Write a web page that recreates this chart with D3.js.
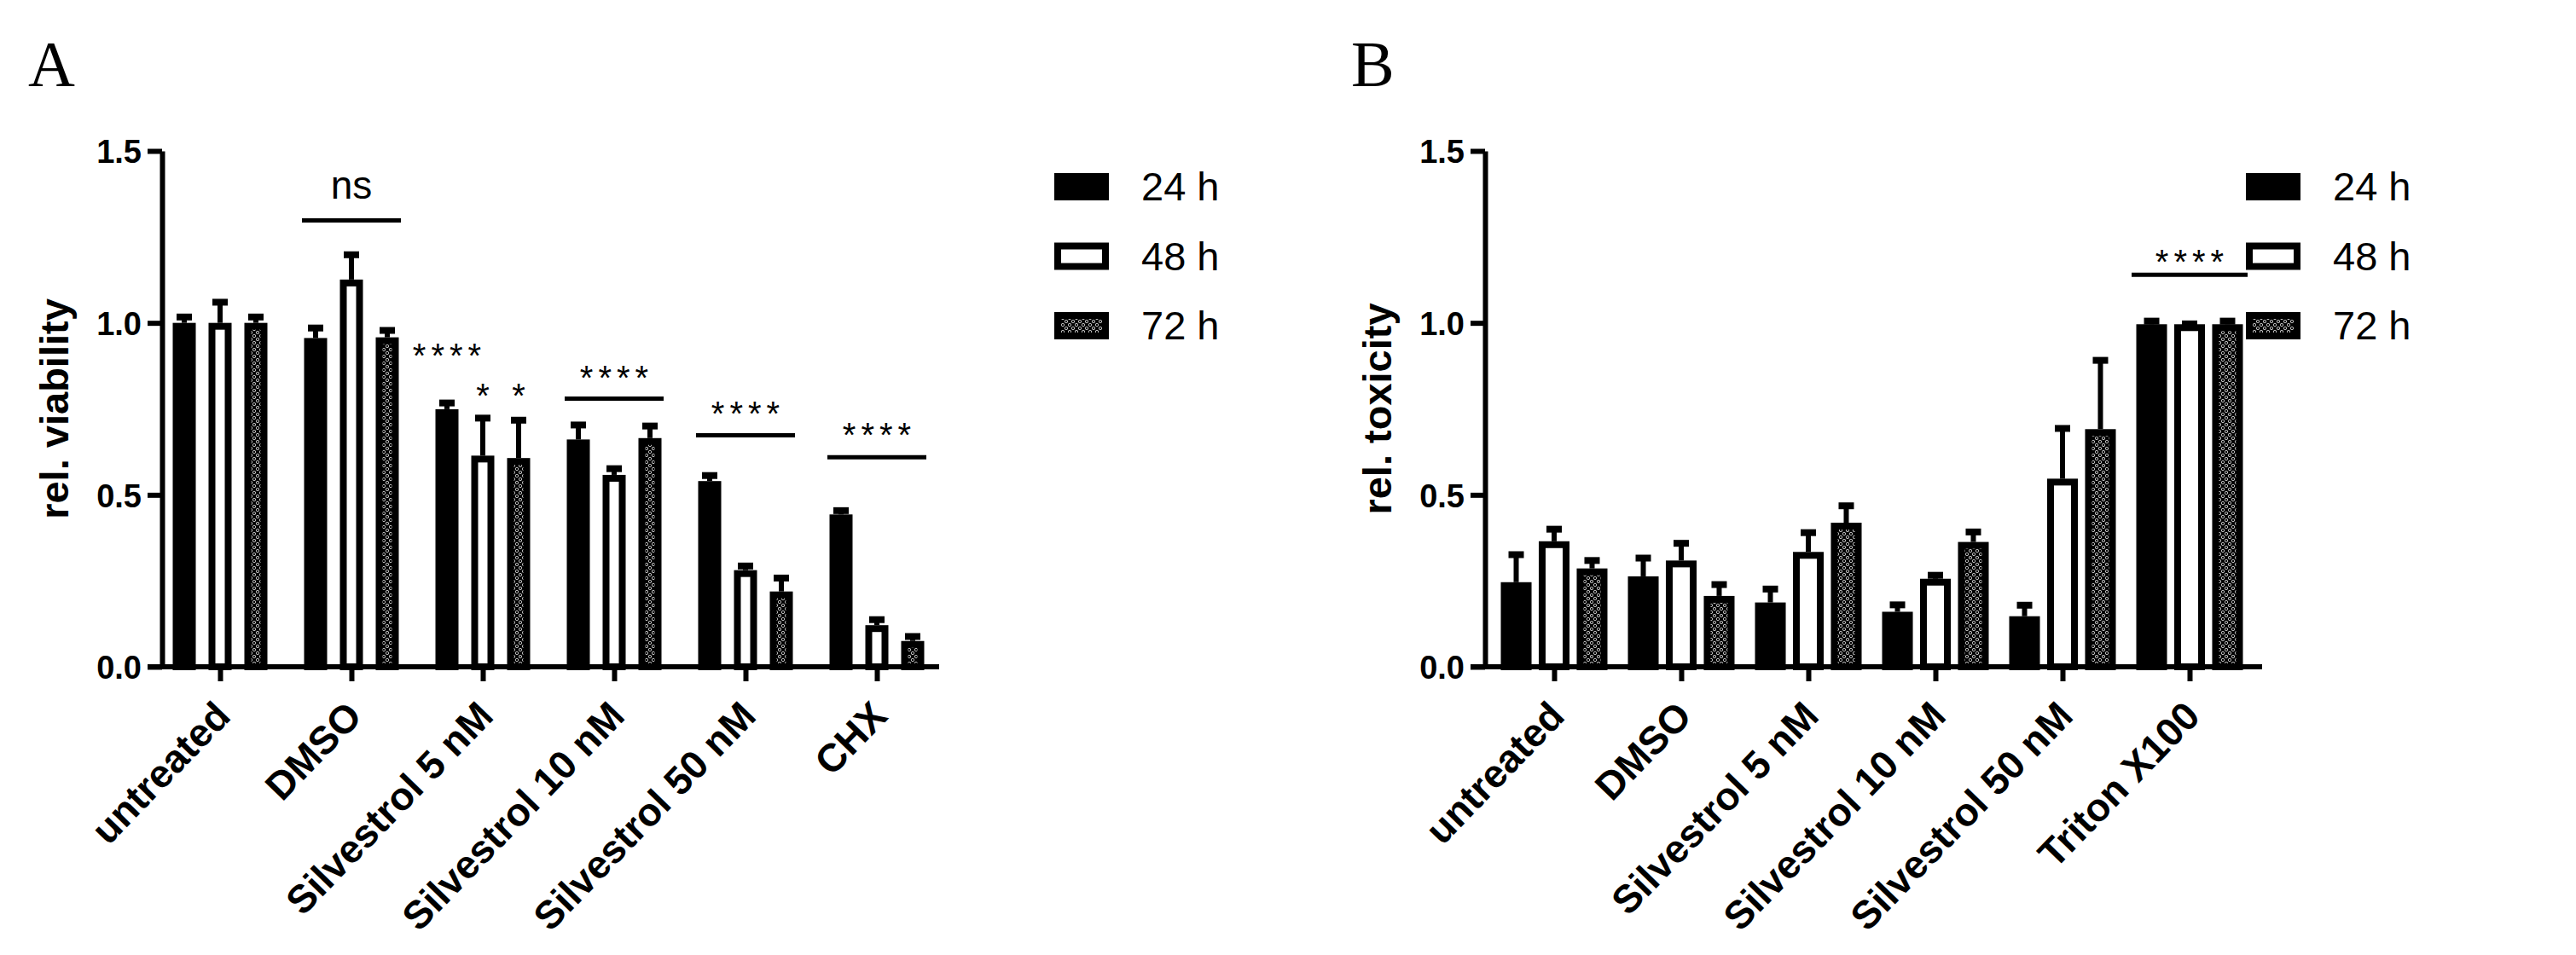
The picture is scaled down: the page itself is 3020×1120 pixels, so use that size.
<!DOCTYPE html>
<html>
<head>
<meta charset="utf-8">
<script src="https://cdn.jsdelivr.net/npm/d3@7"></script>
<style>
  body { margin: 0; background: #fff; }
  text { font-family: "Liberation Sans", Arial, sans-serif; fill: #000; }
</style>
</head>
<body>
<div id="fig"></div>
<script>
// ---- data ----
var series = ["24 h", "48 h", "72 h"];
var yTicks = [0, 0.5, 1.0, 1.5];

var groupsA = ["untreated", "DMSO", "Silvestrol 5 nM", "Silvestrol 10 nM", "Silvestrol 50 nM", "CHX"];
// mean per group, order 24 h / 48 h / 72 h
var meanA = [
  [1.000, 1.000, 1.000],
  [0.956, 1.126, 0.958],
  [0.749, 0.614, 0.607],
  [0.661, 0.558, 0.665],
  [0.540, 0.281, 0.219],
  [0.443, 0.121, 0.075]
];
var semA = [
  [0.027, 0.070, 0.027],
  [0.039, 0.082, 0.030],
  [0.028, 0.119, 0.120],
  [0.052, 0.028, 0.045],
  [0.026, 0.022, 0.049],
  [0.021, 0.026, 0.023]
];

var groupsB = ["untreated", "DMSO", "Silvestrol 5 nM", "Silvestrol 10 nM", "Silvestrol 50 nM", "Triton X100"];
var meanB = [
  [0.246, 0.365, 0.286],
  [0.263, 0.309, 0.206],
  [0.187, 0.334, 0.419],
  [0.160, 0.256, 0.363],
  [0.147, 0.547, 0.691],
  [0.996, 0.996, 0.996]
];
var semB = [
  [0.090, 0.045, 0.033],
  [0.063, 0.060, 0.043],
  [0.049, 0.066, 0.059],
  [0.030, 0.020, 0.039],
  [0.042, 0.156, 0.210],
  [0.019, 0.011, 0.019]
];

// significance marks: group, label, bar line level, text centre level (null line = over one bar)
var sigA = [
  {group: "DMSO", label: "ns", line: 1.298, text: 1.390},
  {group: "Silvestrol 10 nM", label: "****", line: 0.780, text: 0.864},
  {group: "Silvestrol 50 nM", label: "****", line: 0.673, text: 0.758},
  {group: "CHX", label: "****", line: 0.609, text: 0.696},
  {group: "Silvestrol 5 nM", bar: "24 h", label: "****", line: null, text: 0.9285},
  {group: "Silvestrol 5 nM", bar: "48 h", label: "*", line: null, text: 0.811},
  {group: "Silvestrol 5 nM", bar: "72 h", label: "*", line: null, text: 0.811}
];
var sigB = [
  {group: "Triton X100", label: "****", line: 1.140, text: 1.200}
];

// ---- drawing ----
var svg = d3.select("#fig").append("svg")
  .attr("width", 3020).attr("height", 1120);
svg.append("rect").attr("width", 3020).attr("height", 1120).attr("fill", "#fff");

var defs = svg.append("defs");
var pat = defs.append("pattern").attr("id", "dots")
  .attr("patternUnits", "userSpaceOnUse").attr("width", 8).attr("height", 8);
pat.append("rect").attr("width", 8).attr("height", 8).attr("fill", "#000");
pat.append("circle").attr("cx", 2).attr("cy", 2).attr("r", 1.7)
  .attr("fill", "none").attr("stroke", "#bdbdbd").attr("stroke-width", 1);
pat.append("circle").attr("cx", 6).attr("cy", 6).attr("r", 1.7)
  .attr("fill", "none").attr("stroke", "#bdbdbd").attr("stroke-width", 1);

var fills = {"24 h": "#000", "48 h": "#fff", "72 h": "url(#dots)"};
var SW = 8;   // bar outline

function panel(o) {
  var g = svg.append("g");

  var y = d3.scaleLinear().domain([0, 1.5]).range([782, 177]);
  var x = d3.scalePoint().domain(o.groups).range(o.xRange);
  var sub = d3.scaleBand().domain(series)
    .range([-o.span / 2, o.span / 2]).paddingInner(o.pad);
  var bw = sub.bandwidth();

  // panel letter
  g.append("text").attr("x", o.axisX - 157).attr("y", 101)
    .style("font-family", "'Liberation Serif', 'Times New Roman', serif")
    .style("font-size", "76px").text(o.letter);

  // bars
  o.groups.forEach(function(grp, i) {
    series.forEach(function(s, j) {
      var v = o.mean[i][j], e = o.sem[i][j];
      var x0 = x(grp) + sub(s);
      var cx = x0 + bw / 2;
      // error bar (upper only)
      g.append("line").attr("x1", cx).attr("x2", cx)
        .attr("y1", y(v)).attr("y2", y(v + e) + 3)
        .attr("stroke", "#000").attr("stroke-width", 6);
      g.append("line").attr("x1", cx - 9).attr("x2", cx + 9)
        .attr("y1", y(v + e) + 4).attr("y2", y(v + e) + 4)
        .attr("stroke", "#000").attr("stroke-width", 8);
      g.append("rect")
        .attr("x", x0 + SW / 2).attr("width", bw - SW)
        .attr("y", y(v) + SW / 2).attr("height", y(0) - y(v) - SW / 2)
        .attr("fill", fills[s]).attr("stroke", "#000").attr("stroke-width", SW);
    });
  });

  // y axis
  var ya = g.append("g").attr("transform", "translate(" + o.axisX + ",0)")
    .call(d3.axisLeft(y).tickValues(yTicks).tickFormat(d3.format(".1f"))
      .tickSize(17).tickSizeOuter(0).tickPadding(7));
  ya.select(".domain").attr("stroke-width", 6);
  ya.selectAll(".tick line").attr("stroke-width", 6);
  ya.selectAll(".tick text").attr("dy", "0.36em")
    .style("font-size", "38px").style("font-weight", "bold")
    .style("font-family", "'Liberation Sans', Arial, sans-serif");

  // x axis
  g.append("line").attr("x1", o.axisX - 17).attr("x2", o.axisEnd)
    .attr("y1", y(0)).attr("y2", y(0)).attr("stroke", "#000").attr("stroke-width", 6);
  var xa = g.append("g").attr("transform", "translate(0," + y(0) + ")")
    .call(d3.axisBottom(x).tickSize(17).tickSizeOuter(0));
  xa.select(".domain").remove();
  xa.selectAll(".tick line").attr("stroke-width", 6);
  xa.selectAll(".tick text")
    .attr("x", 0).attr("y", 0).attr("dy", 0)
    .attr("transform", "translate(14,60) rotate(-46)")
    .attr("text-anchor", "end")
    .style("font-size", "46px").style("font-weight", "bold")
    .style("font-family", "'Liberation Sans', Arial, sans-serif");

  // y label
  g.append("text")
    .attr("transform", "translate(" + (o.axisX - 110) + "," + y(0.75) + ") rotate(-90)")
    .attr("text-anchor", "middle")
    .style("font-size", "47px").style("font-weight", "bold")
    .text(o.yLabel);

  // significance
  o.sig.forEach(function(d) {
    var cx = d.bar ? x(d.group) + sub(d.bar) + bw / 2 : x(d.group);
    if (d.line !== null) {
      g.append("line").attr("x1", cx - o.lineHalf).attr("x2", cx + o.lineHalf)
        .attr("y1", y(d.line)).attr("y2", y(d.line))
        .attr("stroke", "#000").attr("stroke-width", 5);
    }
    var isStar = d.label.indexOf("*") >= 0;
    var fs = isStar ? 40 : 46;
    g.append("text")
      .attr("x", cx + (isStar ? 3 : 0))
      .attr("y", y(d.text) + (isStar ? 0.575 : 0.26) * fs)
      .attr("text-anchor", "middle")
      .style("font-size", fs + "px")
      .style("letter-spacing", isStar ? "6px" : "0px")
      .text(d.label);
  });

  // legend
  var lg = g.append("g").attr("transform", "translate(" + o.legX + ",203)");
  series.forEach(function(s, j) {
    lg.append("rect").attr("x", SW / 2).attr("y", j * 81.5 + SW / 2)
      .attr("width", 64 - SW).attr("height", 32 - SW)
      .attr("fill", fills[s]).attr("stroke", "#000").attr("stroke-width", SW);
    lg.append("text").attr("x", 102).attr("y", j * 81.5 + 32)
      .style("font-size", "47px").text(s);
  });
}

panel({
  letter: "A", groups: groupsA, mean: meanA, sem: semA, sig: sigA,
  axisX: 190, axisEnd: 1101, xRange: [258, 1028], span: 111, pad: 0.357,
  lineHalf: 58, yLabel: "rel. viability", legX: 1236
});
panel({
  letter: "B", groups: groupsB, mean: meanB, sem: semB, sig: sigB,
  axisX: 1741, axisEnd: 2652, xRange: [1822, 2567], span: 125, pad: 0.19,
  lineHalf: 68, yLabel: "rel. toxicity", legX: 2633
});
</script>
</body>
</html>
